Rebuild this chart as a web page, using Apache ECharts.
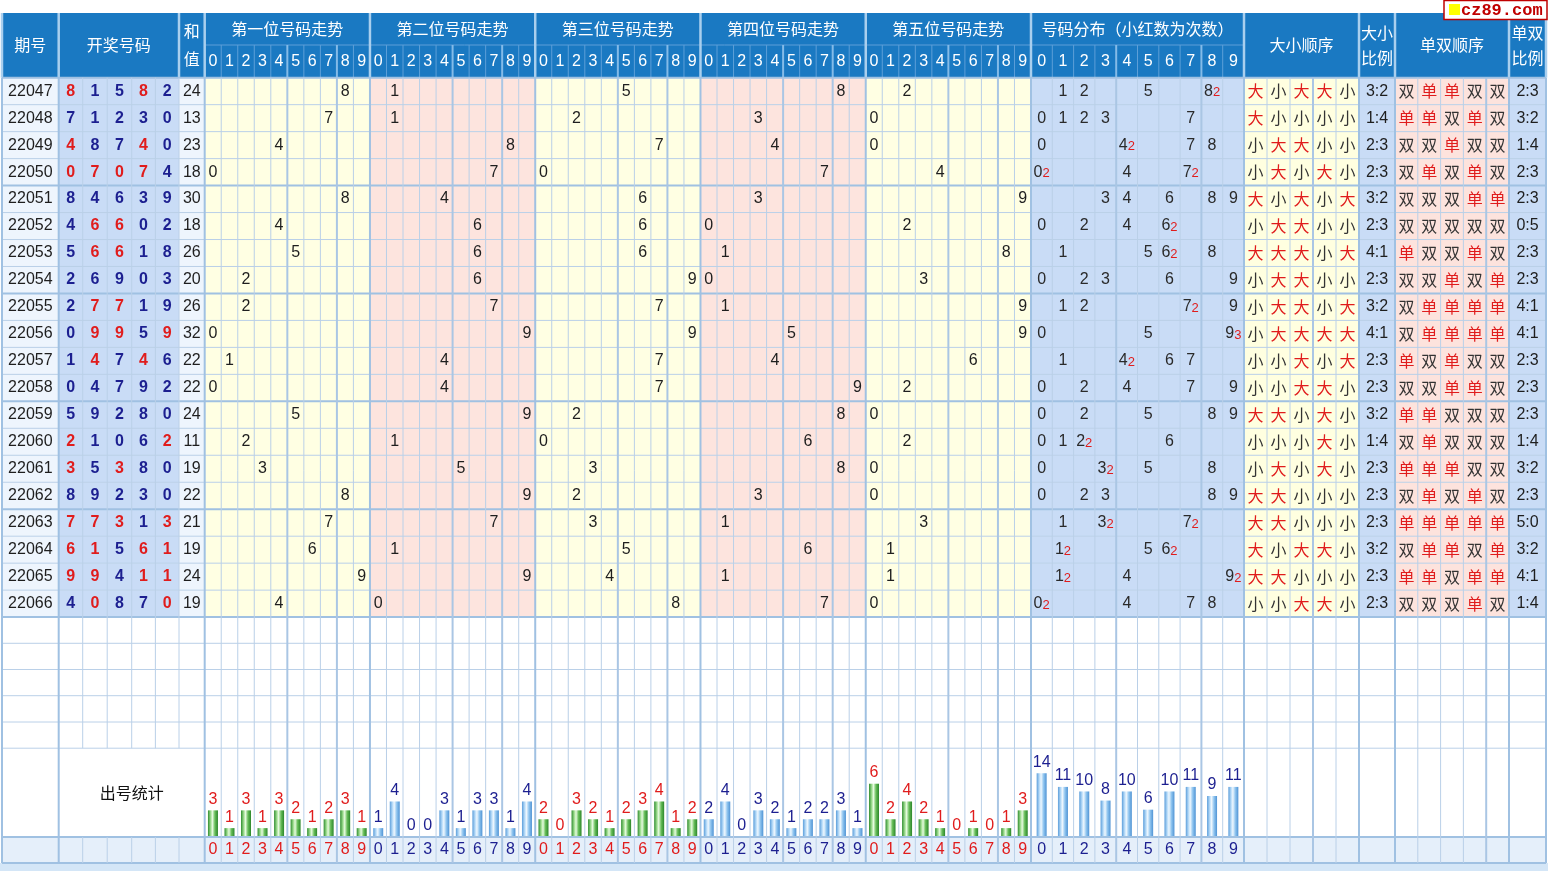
<!DOCTYPE html>
<html><head><meta charset="utf-8">
<script src="https://cdn.jsdelivr.net/npm/echarts@6/dist/echarts.min.js"></script>
<style>html,body{margin:0;padding:0;background:#fff;overflow:hidden}#c{width:1548px;height:871px}</style>
</head><body><div id="c"></div>
<script>
// ---------------- DATA ----------------
const periods = ['22047','22048','22049','22050','22051','22052','22053','22054','22055','22056','22057','22058','22059','22060','22061','22062','22063','22064','22065','22066'];
const draws = [
  [8,1,5,8,2],[7,1,2,3,0],[4,8,7,4,0],[0,7,0,7,4],[8,4,6,3,9],
  [4,6,6,0,2],[5,6,6,1,8],[2,6,9,0,3],[2,7,7,1,9],[0,9,9,5,9],
  [1,4,7,4,6],[0,4,7,9,2],[5,9,2,8,0],[2,1,0,6,2],[3,5,3,8,0],
  [8,9,2,3,0],[7,7,3,1,3],[6,1,5,6,1],[9,9,4,1,1],[4,0,8,7,0]
];
const sums = [24,13,23,18,30,18,26,20,26,32,22,22,24,11,19,22,21,19,24,19];
const posCounts = [
  [3,1,3,1,3,2,1,2,3,1],
  [1,4,0,0,3,1,3,3,1,4],
  [2,0,3,2,1,2,3,4,1,2],
  [2,4,0,3,2,1,2,2,3,1],
  [6,2,4,2,1,0,1,0,1,3]
];
const distCounts = [14,11,10,8,10,6,10,11,9,11];
const digitLabels = ['0','1','2','3','4','5','6','7','8','9'];
const posTitles = ['第一位号码走势','第二位号码走势','第三位号码走势','第四位号码走势','第五位号码走势'];

// ---------------- LAYOUT / STYLE ----------------
const W = 1548, H = 871;
const X0 = 2, X1 = 1546;
const PERIOD_R = 58.7;
const NUM_EDGES = [58.7, 82.7, 107.2, 131.7, 155.4, 179];
const SUM_R = 204.7;
const POS_L = 204.7, POS_W = 165.26, POS_C = POS_W / 10;
const DIST_L = 1031, DIST_R = 1244, DIST_C = (DIST_R - DIST_L) / 10;
const BS_L = 1244, BS_R = 1359, BS_C = (BS_R - BS_L) / 5;
const BSR_R = 1395;
const OE_L = 1395, OE_R = 1509, OE_C = (OE_R - OE_L) / 5;
const OER_R = 1546;
const HEAD_T = 13, HEAD_M = 45, HEAD_B = 77.7;
const ROW_H = 26.97;
const ROWS_B = HEAD_B + 20 * ROW_H;
const EMPTY_LINES = [643.3, 669.5, 695.7, 722];
const STAT_T = 748.2, STAT_B = 837, FOOT_B = 863;

const C = {
  head: '#1a79c2', headLine: '#5d9fd8', headGroup: '#84bbe8', headSep: '#a9cfee',
  periodBg: '#eef5fd', numBg: '#c9dcf6', sumBg: '#eef5fd',
  yellow: '#ffffe3', pink: '#fde4de', distBg: '#c9dcf6',
  bsBg: '#ffffe0', oeBg: '#fde3dd', ratioBg: '#c9dcf6',
  grid: '#bad0e8', gridGroup: '#aac6e4', gridMajor: '#a0c1e2',
  red: '#e01c1c', navy: '#1c1f90', text: '#1e1e1e', foot: '#e5effa', strip: '#d4e6f7'
};
const FN = '"Liberation Sans", Arial, sans-serif';
const FC = '"Noto Sans CJK SC", "Liberation Sans", sans-serif';

function textStyle(text, fill, size, family, weight, extra) {
  return Object.assign({
    text: text, fill: fill, fontSize: size, fontFamily: family, fontWeight: weight || 'normal',
    align: 'center', verticalAlign: 'middle', textAlign: 'center', textVerticalAlign: 'middle'
  }, extra || {});
}

// ---------------- ROW RENDER ----------------
function renderRow(params, api) {
  const i = api.value(1);
  const ctr = api.coord([0, i]);
  const h = api.size([0, 1])[1];
  const top = ctr[1] - h / 2, cy = ctr[1];
  const X = v => api.coord([v, i])[0];
  const kids = [];
  const rect = (a, b, fill) => kids.push({ type: 'rect', shape: { x: X(a), y: top, width: X(b) - X(a), height: h }, style: { fill: fill } });
  const txt = (x, text, fill, size, family, weight, extra) => kids.push({ type: 'text', x: X(x), y: cy, style: textStyle(text, fill, size, family, weight, extra) });

  rect(X0, PERIOD_R, C.periodBg);
  rect(PERIOD_R, NUM_EDGES[5], C.numBg);
  rect(NUM_EDGES[5], SUM_R, C.sumBg);
  for (let p = 0; p < 5; p++) rect(POS_L + p * POS_W, POS_L + (p + 1) * POS_W, p % 2 ? C.pink : C.yellow);
  rect(DIST_L, DIST_R, C.distBg);
  rect(BS_L, BS_R, C.bsBg);
  rect(BS_R, BSR_R, C.ratioBg);
  rect(OE_L, OE_R, C.oeBg);
  rect(OE_R, OER_R, C.ratioBg);

  const d = draws[i];
  const cnt = [0,0,0,0,0,0,0,0,0,0];
  d.forEach(v => cnt[v]++);

  txt((X0 + PERIOD_R) / 2, periods[i], C.text, 16, FN);
  for (let k = 0; k < 5; k++) {
    txt((NUM_EDGES[k] + NUM_EDGES[k + 1]) / 2, String(d[k]), cnt[d[k]] > 1 ? C.red : C.navy, 16, FN, 'bold');
  }
  txt((NUM_EDGES[5] + SUM_R) / 2, String(sums[i]), C.text, 16, FN);
  for (let p = 0; p < 5; p++) {
    txt(POS_L + p * POS_W + (d[p] + 0.5) * POS_C, String(d[p]), C.text, 16, FN);
  }
  for (let v = 0; v < 10; v++) {
    if (!cnt[v]) continue;
    if (cnt[v] === 1) {
      txt(DIST_L + (v + 0.5) * DIST_C, String(v), '#2a2a2a', 16, FN);
    } else {
      kids.push({ type: 'text', x: X(DIST_L + (v + 0.5) * DIST_C), y: cy,
        style: textStyle('{a|' + v + '}{b|' + cnt[v] + '}', '#2a2a2a', 16, FN, 'normal', {
          rich: {
            a: { fontSize: 16, fontFamily: FN, fill: '#2a2a2a', color: '#2a2a2a' },
            b: { fontSize: 13, fontFamily: FN, fill: C.red, color: C.red, padding: [3, 0, 0, 0] }
          }
        }) });
    }
  }
  let big = 0, odd = 0;
  for (let k = 0; k < 5; k++) {
    const isBig = d[k] >= 5; if (isBig) big++;
    txt(BS_L + (k + 0.5) * BS_C, isBig ? '大' : '小', isBig ? C.red : '#333', 16, FC);
    const isOdd = d[k] % 2 === 1; if (isOdd) odd++;
    txt(OE_L + (k + 0.5) * OE_C, isOdd ? '单' : '双', isOdd ? C.red : '#333', 16, FC);
  }
  txt((BS_R + BSR_R) / 2, big + ':' + (5 - big), C.text, 16, FN);
  txt((OE_R + OER_R) / 2, odd + ':' + (5 - odd), C.text, 16, FN);
  return { type: 'group', children: kids };
}

// ---------------- STATIC GRAPHICS (frame, header, lines) ----------------
const G = [];
function vline(x, y1, y2, color, w) { G.push({ type: 'line', z: 10, silent: true, shape: { x1: x, y1: y1, x2: x, y2: y2 }, style: { stroke: color, lineWidth: w } }); }
function hline(y, x1, x2, color, w) { G.push({ type: 'line', z: 10, silent: true, shape: { x1: x1, y1: y, x2: x2, y2: y }, style: { stroke: color, lineWidth: w } }); }
function gtext(x, y, text, fill, size, family, weight, extra) { G.push({ type: 'text', z: 12, silent: true, x: x, y: y, style: textStyle(text, fill, size, family, weight, extra) }); }

// header background
G.push({ type: 'rect', z: 1, silent: true, shape: { x: X0, y: HEAD_T, width: X1 - X0, height: HEAD_B - HEAD_T }, style: { fill: C.head } });
// footer background + strip
G.push({ type: 'rect', z: 1, silent: true, shape: { x: X0, y: STAT_B, width: X1 - X0, height: FOOT_B - STAT_B }, style: { fill: C.foot } });
G.push({ type: 'rect', z: 1, silent: true, shape: { x: 0, y: FOOT_B, width: W, height: H - FOOT_B }, style: { fill: C.strip } });

const HM = (HEAD_T + HEAD_B) / 2, HT = (HEAD_T + HEAD_M) / 2, HD = (HEAD_M + HEAD_B) / 2;
gtext((X0 + PERIOD_R) / 2, HM, '期号', '#fff', 16, FC);
gtext((NUM_EDGES[0] + NUM_EDGES[5]) / 2, HM, '开奖号码', '#fff', 16, FC);
gtext((NUM_EDGES[5] + SUM_R) / 2, HM, '和\n值', '#fff', 16, FC, 'normal', { lineHeight: 28 });
for (let p = 0; p < 5; p++) {
  gtext(POS_L + p * POS_W + POS_W / 2, HT, posTitles[p], '#fff', 16, FC);
  for (let k = 0; k < 10; k++) gtext(POS_L + p * POS_W + (k + 0.5) * POS_C, HD, digitLabels[k], '#fff', 16, FN);
}
gtext((DIST_L + DIST_R) / 2, HT, '号码分布（小红数为次数）', '#fff', 16, FC);
for (let k = 0; k < 10; k++) gtext(DIST_L + (k + 0.5) * DIST_C, HD, digitLabels[k], '#fff', 16, FN);
gtext((BS_L + BS_R) / 2, HM, '大小顺序', '#fff', 16, FC);
gtext((BS_R + BSR_R) / 2, HM, '大小\n比例', '#fff', 16, FC, 'normal', { lineHeight: 25 });
gtext((OE_L + OE_R) / 2, HM, '单双顺序', '#fff', 16, FC);
gtext((OE_R + OER_R) / 2, HM, '单双\n比例', '#fff', 16, FC, 'normal', { lineHeight: 25 });
gtext((NUM_EDGES[0] + SUM_R) / 2, (STAT_T + STAT_B) / 2, '出号统计', '#111', 16, FC);

// header inner lines
hline(HEAD_M, POS_L, DIST_R, C.headLine, 1);
for (let p = 0; p < 5; p++) for (let k = 1; k < 10; k++) {
  const g = (k === 5 || k === 8);
  vline(POS_L + p * POS_W + k * POS_C, HEAD_M, HEAD_B, g ? C.headGroup : C.headLine, g ? 2 : 1);
}
for (let k = 1; k < 10; k++) {
  const g = (k === 4 || k === 8);
  vline(DIST_L + k * DIST_C, HEAD_M, HEAD_B, g ? C.headGroup : C.headLine, g ? 2 : 1);
}
const MAJORS = [X0, PERIOD_R, SUM_R, POS_L + POS_W, POS_L + 2 * POS_W, POS_L + 3 * POS_W, POS_L + 4 * POS_W, DIST_L, BS_L, BS_R, OE_L, OE_R, X1];
MAJORS.forEach(x => vline(x, HEAD_T, HEAD_B, C.headSep, 2.5));
vline(NUM_EDGES[5], HEAD_T, HEAD_B, C.headSep, 2.5);

// body horizontal lines
hline(HEAD_B, X0, X1, C.gridMajor, 2);
for (let r = 1; r <= 20; r++) {
  const y = HEAD_B + r * ROW_H;
  hline(y, X0, X1, r % 4 === 0 ? C.gridMajor : C.grid, r % 4 === 0 ? 2 : 1);
}
EMPTY_LINES.forEach(y => hline(y, X0, X1, C.grid, 1));
hline(STAT_T, X0, X1, C.grid, 1);
hline(STAT_B, X0, X1, C.gridMajor, 2);
hline(FOOT_B, X0, X1, C.gridMajor, 2);

// body vertical lines
for (let k = 1; k <= 5; k++) {
  vline(NUM_EDGES[k], HEAD_B, STAT_T, C.grid, 1);
  vline(NUM_EDGES[k], STAT_B, FOOT_B, C.grid, 1);
}
for (let p = 0; p < 5; p++) for (let k = 1; k < 10; k++) {
  const g = (k === 5 || k === 8);
  vline(POS_L + p * POS_W + k * POS_C, HEAD_B, FOOT_B, g ? C.gridGroup : C.grid, g ? 2 : 1);
}
for (let k = 1; k < 10; k++) {
  const g = (k === 4 || k === 8);
  vline(DIST_L + k * DIST_C, HEAD_B, FOOT_B, g ? C.gridGroup : C.grid, g ? 2 : 1);
}
for (let k = 1; k < 5; k++) {
  vline(BS_L + k * BS_C, HEAD_B, FOOT_B, k === 3 ? C.gridGroup : C.grid, k === 3 ? 2 : 1);
  vline(OE_L + k * OE_C, HEAD_B, FOOT_B, k === 4 ? C.gridGroup : C.grid, k === 4 ? 2 : 1);
}
MAJORS.forEach(x => vline(x, HEAD_B, FOOT_B, C.gridMajor, 2));

// logo
G.push({ type: 'rect', z: 20, silent: true, shape: { x: 1444, y: 0.5, width: 103, height: 19 }, style: { fill: '#fff', stroke: '#c00000', lineWidth: 1.5 } });
G.push({ type: 'rect', z: 21, silent: true, shape: { x: 1449, y: 4, width: 11, height: 11 }, style: { fill: '#ffff00' } });
G.push({ type: 'text', z: 21, silent: true, x: 1461, y: 10.5, style: { text: 'cz89.com', fill: '#c00000', fontSize: 17, fontFamily: '"Liberation Mono", "DejaVu Sans Mono", monospace', fontWeight: 'bold', align: 'left', textAlign: 'left', verticalAlign: 'middle', textVerticalAlign: 'middle' } });

// ---------------- BARS ----------------
const LG = echarts.graphic.LinearGradient;
const greenGrad = () => new LG(0, 0, 1, 0, [
  { offset: 0, color: '#2f8e2f' }, { offset: 0.3, color: '#a9e39a' }, { offset: 0.45, color: '#e6fadf' },
  { offset: 0.7, color: '#66bd58' }, { offset: 1, color: '#2b862b' }]);
const blueGrad = () => new LG(0, 0, 1, 0, [
  { offset: 0, color: '#5b9edb' }, { offset: 0.3, color: '#bfe0fa' }, { offset: 0.45, color: '#eef7fe' },
  { offset: 0.7, color: '#8ec4ef' }, { offset: 1, color: '#4f93d4' }]);

const posCats = [];
const posBarData = [];
posCounts.forEach((arr, p) => arr.forEach((v, k) => {
  posCats.push(p + '-' + digitLabels[k]);
  posBarData.push({ value: v, itemStyle: { color: p % 2 ? blueGrad() : greenGrad() }, label: { color: p % 2 ? C.navy : C.red } });
}));
const distBarData = distCounts.map(v => ({ value: v, itemStyle: { color: blueGrad() }, label: { color: C.navy } }));

const option = {
  animation: false,
  backgroundColor: '#ffffff',
  grid: [
    { left: 0, right: 0, top: HEAD_B, height: ROWS_B - HEAD_B },
    { left: POS_L, width: 5 * POS_W, top: STAT_T, height: STAT_B - STAT_T },
    { left: DIST_L, width: DIST_R - DIST_L, top: STAT_T, height: STAT_B - STAT_T }
  ],
  xAxis: [
    { gridIndex: 0, type: 'value', min: 0, max: W, show: false },
    { gridIndex: 1, type: 'category', data: posCats, z: 40, axisLine: { show: false }, axisTick: { show: false }, splitLine: { show: false },
      axisLabel: { show: true, interval: 0, margin: 5, fontSize: 16, fontFamily: FN, formatter: v => v.split('-')[1],
        color: (v) => (parseInt(String(v).split('-')[0], 10) % 2 ? C.navy : C.red) } },
    { gridIndex: 2, type: 'category', data: digitLabels, z: 40, axisLine: { show: false }, axisTick: { show: false }, splitLine: { show: false },
      axisLabel: { show: true, interval: 0, margin: 5, fontSize: 16, fontFamily: FN, color: C.navy } }
  ],
  yAxis: [
    { gridIndex: 0, type: 'category', data: periods, inverse: true, show: false },
    { gridIndex: 1, type: 'value', min: 0, max: 10, show: false },
    { gridIndex: 2, type: 'value', min: 0, max: 19.5, show: false }
  ],
  graphic: { elements: G },
  series: [
    { type: 'custom', xAxisIndex: 0, yAxisIndex: 0, renderItem: renderRow,
      data: periods.map((p, i) => [0, i]), encode: { x: 0, y: 1 }, silent: true, z: 2 },
    { type: 'bar', xAxisIndex: 1, yAxisIndex: 1, data: posBarData, barWidth: 10, z: 3,
      label: { show: true, position: 'top', distance: 3, fontSize: 16, fontFamily: FN } },
    { type: 'bar', xAxisIndex: 2, yAxisIndex: 2, data: distBarData, barWidth: 10, z: 3,
      label: { show: true, position: 'top', distance: 3, fontSize: 16, fontFamily: FN } }
  ]
};
const chart = echarts.init(document.getElementById('c'), null, { renderer: 'canvas' });
chart.setOption(option);
</script>
</body></html>
